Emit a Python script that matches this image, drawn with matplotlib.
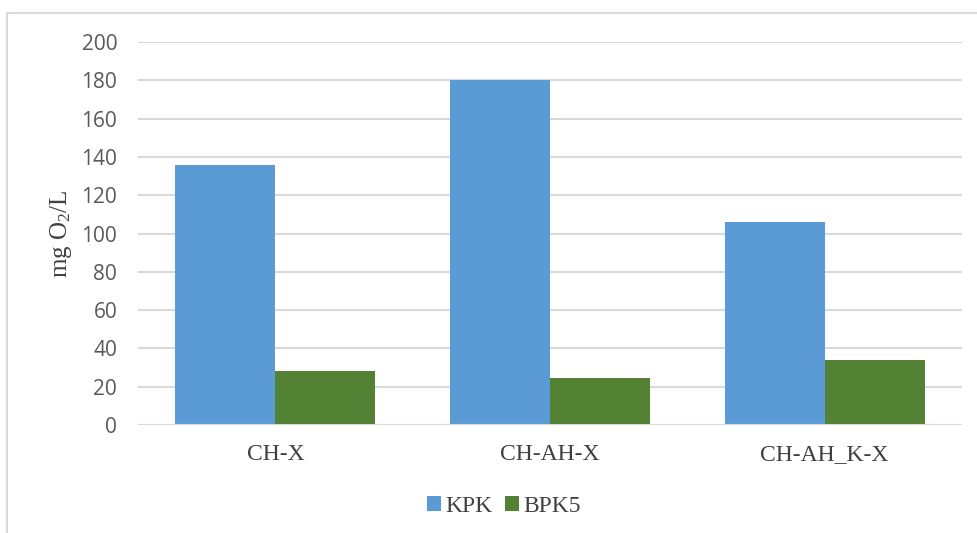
import numpy as np
import matplotlib.pyplot as plt
from matplotlib.patches import Rectangle

plt.rcParams['mathtext.fontset'] = 'custom'
plt.rcParams['mathtext.rm'] = 'Liberation Serif'
plt.rcParams['mathtext.it'] = 'Liberation Serif:italic'

categories = ['CH-X', 'CH-AH-X', 'CH-AH_K-X']
kpk = [136, 180, 106]
bpk5 = [28, 24.5, 34]
series_names = ['KPK', 'BPK5']

fig = plt.figure(figsize=(9.78, 5.33), dpi=100)
ax = fig.add_axes([138 / 978, 1 - 425 / 533, 824 / 978, 383 / 533])

x = np.arange(len(categories))
w = 0.364
ax.bar(x - w / 2, kpk, width=w, color='#5B9BD5', label=series_names[0], zorder=3)
ax.bar(x + w / 2, bpk5, width=w, color='#548235', label=series_names[1], zorder=3)

ax.set_xlim(-0.5, 2.5)
ax.set_ylim(0, 200)
ax.set_yticks(np.arange(0, 201, 20))
ax.grid(axis='y', color='#D9D9D9', lw=1.5, zorder=0)
ax.axhline(0, color='#D9D9D9', lw=1.5, zorder=4)
for s in ax.spines.values():
    s.set_visible(False)

ax.set_xticks(x)
ax.set_xticklabels(categories, family='Liberation Serif', fontsize=17, color='#404040')
ax.tick_params(axis='x', length=0, pad=14)
ax.tick_params(axis='y', length=0, pad=15, labelsize=15, labelcolor='#595959')
for lab in ax.get_yticklabels():
    lab.set_family('Open Sans')

ax.set_ylabel(r'mg O$_\mathrm{2}$/L', family='Liberation Serif', fontsize=18, color='#404040', labelpad=5)

leg = fig.legend(loc='center', bbox_to_anchor=(504 / 978, 1 - 506 / 533), ncol=2, frameon=False,
                 prop={'family': 'Liberation Serif', 'size': 17}, handlelength=0.6, handleheight=0.6,
                 handletextpad=0.2, columnspacing=0.5)
for t in leg.get_texts():
    t.set_color('#404040')

# рамка области диаграммы
fig.patches.append(Rectangle((7 / 978, -0.05), 1.2, 1 - 13 / 533 + 0.05, transform=fig.transFigure,
                             fill=False, edgecolor='#D9D9D9', lw=1.5))

fig.savefig('out.png', dpi=100)
